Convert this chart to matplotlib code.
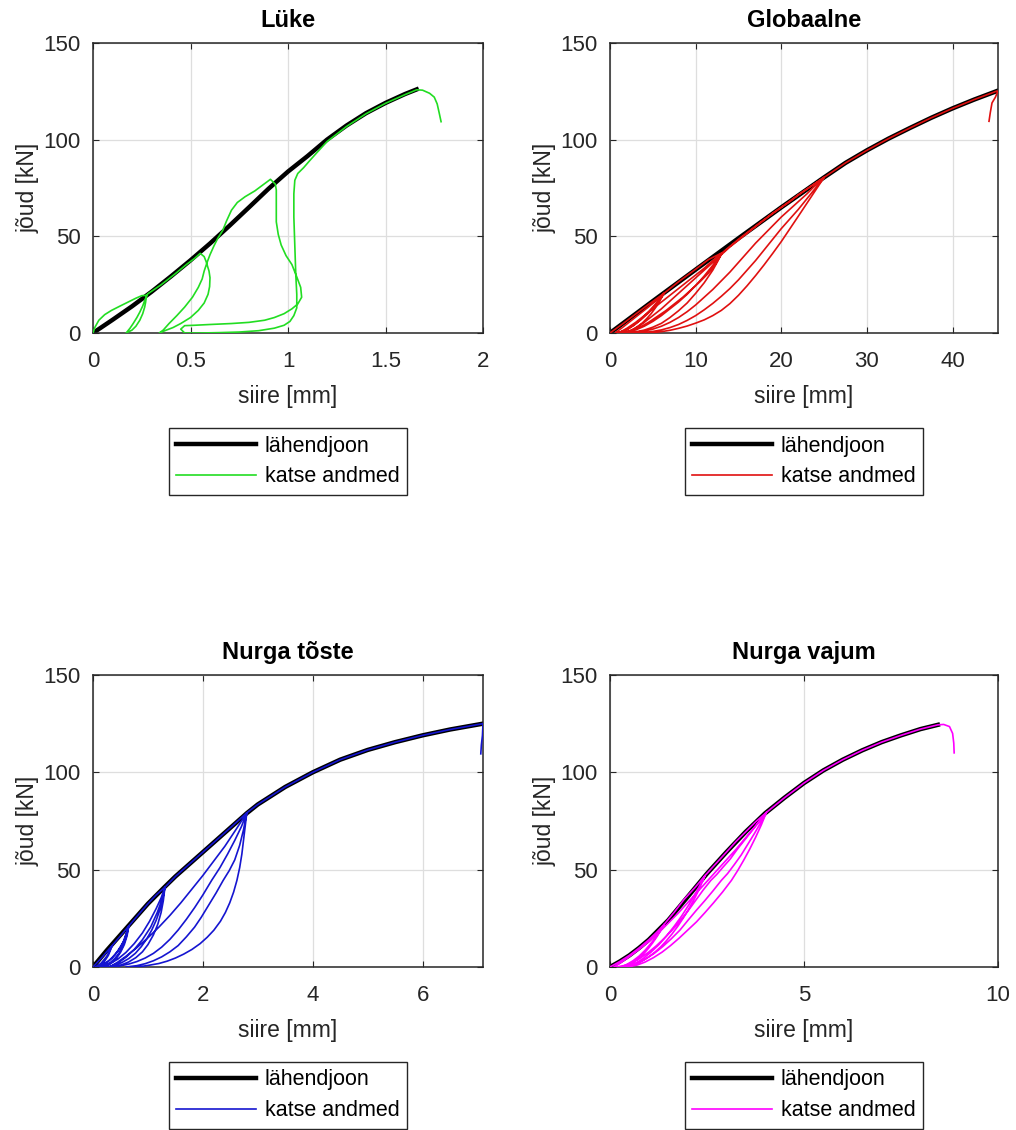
import matplotlib
matplotlib.use("Agg")
import matplotlib.pyplot as plt

plt.rcParams['font.family'] = ['Liberation Sans', 'DejaVu Sans']

# --- Lüke ---------------------------------------------------------------
luke_fit_x = [0, 0.1, 0.2, 0.3, 0.4, 0.5, 0.6, 0.7, 0.8, 0.9, 1.0, 1.1, 1.2,
              1.3, 1.4, 1.5, 1.6, 1.66]
luke_fit_y = [0, 6.8, 13.8, 21.3, 29.3, 37.6, 46.3, 55.5, 65, 74.6, 83.5, 91.5,
              100, 107.3, 113.7, 119, 123.6, 126]
luke_x = [0, 0.01, 0.03, 0.06, 0.095, 0.14, 0.18, 0.22, 0.25, 0.274,
          0.27, 0.265, 0.255, 0.24, 0.22, 0.2, 0.17,
          0.19, 0.206, 0.225, 0.24, 0.255, 0.265, 0.28,
          0.35, 0.42, 0.48, 0.52, 0.55,
          0.57, 0.58, 0.595, 0.6, 0.598, 0.59, 0.57, 0.54, 0.5, 0.45, 0.41, 0.376, 0.34,
          0.36, 0.39, 0.43, 0.47, 0.51, 0.54, 0.56, 0.57, 0.585, 0.6, 0.62, 0.64, 0.665,
          0.685, 0.71, 0.74, 0.78, 0.83, 0.87, 0.91,
          0.935, 0.94, 0.94, 0.94, 0.95, 0.965, 0.99, 1.02, 1.045, 1.065, 1.07, 1.05,
          1.02, 0.98, 0.93, 0.88, 0.8, 0.71, 0.6, 0.52, 0.47, 0.45, 0.47,
          0.55, 0.65, 0.75, 0.85, 0.93, 0.98, 1.01, 1.03, 1.045, 1.045, 1.04, 1.035,
          1.03, 1.03, 1.035, 1.05, 1.08, 1.11, 1.15, 1.2,
          1.3, 1.4, 1.5, 1.6, 1.66, 1.69, 1.726, 1.75, 1.765, 1.775, 1.785]
luke_y = [0, 3, 6.6, 9.5, 11.7, 14, 16, 18, 19.3, 19.5,
          16, 13.4, 10, 6.6, 3.5, 1.5, 0,
          2.5, 4.9, 8, 10.8, 14, 16.8, 20.2,
          25, 30.5, 35.5, 38.5, 41.2,
          39.5, 37, 32, 28.6, 24, 20, 15.5, 11.7, 8, 4.9, 2.8, 1.5, 0,
          1.5, 4.9, 9, 13.4, 18.5, 23.6, 28, 32, 36.5, 40.5, 45, 49, 53,
          58, 63.5, 67.5, 70.5, 73.5, 76.5, 79.5,
          77, 74, 66, 57.5, 51, 45.5, 40, 35.4, 29, 23.6, 18.5, 15,
          12.5, 10, 8, 6.6, 5.5, 4.9, 4.4, 4, 3.8, 2, 0,
          0, 0.2, 0.5, 1.2, 2.5, 4, 6, 9, 13, 20, 30, 45,
          60, 72, 79, 82.5, 85.5, 89, 93.5, 99,
          106.8, 113.4, 118.8, 123.3, 125.8, 125.6, 124, 122, 118.5, 114, 109.3]

# --- Globaalne ----------------------------------------------------------
glob_fit_x = [0, 5, 10, 15, 20, 25, 27.5, 30, 32.5, 35, 37.5, 40, 42.5, 45.2]
glob_fit_y = [0, 16.5, 32.8, 49, 65, 80.5, 88, 94.5, 100.5, 106, 111.3, 116.2,
              120.7, 125.2]
glob_x = [0, 1.5, 3, 4.5, 6.3,
          # first level
          5.8, 5.3, 4.8, 4.3, 3.8, 3.3, 2.8, 2.3, 1.8, 1.2,
          2, 2.8, 3.6, 4.4, 5.2, 5.8, 6.3,
          5.8, 5.2, 4.6, 4, 3.4, 2.8, 2.2, 1.6, 1, 0.6,
          1.5, 2.5, 3.5, 4.5, 5.5, 6.3,
          8, 10, 11.5, 13.1,
          # second level
          12.5, 12, 11, 10, 9, 8, 7, 6, 5, 4, 3, 2, 1.5,
          2.5, 3.5, 4.5, 5.5, 6.5, 7.5, 8.5, 9.5, 10.5, 11.5, 12.3, 13.1,
          12.5, 12, 11, 10, 9, 8, 7, 6, 5, 4, 3, 2, 1,
          2, 3, 4, 5, 6, 7, 8, 9, 10, 11, 12, 13.1,
          15, 17.5, 20, 22.5, 25,
          # third level
          24, 23, 22, 21, 20, 19, 18, 17, 16, 15, 14, 13, 12, 11, 10, 9, 8, 7, 6, 5, 4,
          3, 4, 5, 6, 7, 8, 9, 10, 11, 12, 13, 14, 15, 16, 17, 18, 19, 20, 21, 22, 23, 24, 25,
          24, 23, 22, 21, 20, 19, 18, 17, 16, 15, 14, 13, 12, 11, 10, 9, 8, 7, 6, 5, 4, 3, 2,
          3, 4, 5, 6, 7, 8, 9, 10, 11, 12, 13, 14, 15, 16, 17, 18, 19, 20, 21, 22, 23, 24, 25,
          27.5, 30, 32.5, 35, 37.5, 40, 42.5, 45.2,
          45.25, 45.0, 44.6, 44.4, 44.25]
glob_y = [0, 4.8, 9.8, 14.8, 20.5,
          16.5, 13, 10, 7.5, 5.3, 3.6, 2.2, 1.2, 0.5, 0,
          1.8, 4, 6.8, 10, 13.5, 17, 20.5,
          17.5, 14.5, 11.5, 8.8, 6.3, 4.2, 2.4, 1.1, 0.3, 0,
          3, 6.5, 10, 13.5, 17.2, 20.5,
          26.5, 33, 38, 41.5,
          36.5, 32.5, 26, 20.5, 15.5, 11.5, 8, 5, 3, 1.5, 0.6, 0.1, 0,
          1.2, 3, 5.5, 8.5, 11.5, 15, 18.5, 22.5, 26.5, 31, 35.5, 41.5,
          38, 35, 29.5, 24.5, 20, 16, 12.5, 9, 6, 3.5, 1.6, 0.4, 0,
          2.5, 5.5, 9, 12.5, 16, 19.5, 23, 26.5, 30, 33.5, 37.5, 41.5,
          48.5, 57, 65, 73, 80.5,
          73.8, 67.2, 60.5, 53.9, 47.3, 41.2, 35.3, 29.7, 24.4, 19.5, 15.2, 11.7, 9, 6.8, 5.1, 3.6, 2.4, 1.4, 0.7, 0.2, 0,
          0, 0.3, 0.8, 1.6, 2.8, 4.4, 6.5, 9, 12, 15.3, 19, 23, 27.5, 32.5, 37.5, 43, 48.5, 54, 59, 64, 69.5, 75, 80.5,
          76.5, 72, 68, 64, 60, 55.5, 51, 46.5, 41.5, 36.5, 31.5, 27, 22.5, 18.5, 14.5, 11, 8, 5.5, 3.5, 2, 1, 0.4, 0,
          2.5, 5.5, 9, 12.5, 16.5, 20.5, 24.5, 28.5, 32.5, 36.5, 40.5, 44.5, 48, 51.5, 55, 58.5, 62, 65, 68, 71.5, 74.5, 77.5, 80.5,
          88, 94.5, 100.5, 106, 111.3, 116.2, 120.7, 125.2,
          124.8, 122, 119, 114, 109.5]

# --- Nurga tõste --------------------------------------------------------
toste_fit_x = [0, 0.25, 0.5, 0.75, 1.0, 1.3, 1.5, 2.0, 2.5, 2.8, 3.0, 3.5, 4.0,
               4.5, 5.0, 5.5, 6.0, 6.5, 7.0, 7.1]
toste_fit_y = [0, 8.5, 16.5, 24.5, 32.5, 41, 46.5, 59, 71.5, 79, 83.5, 92.5, 100,
               106.5, 111.5, 115.5, 119, 122, 124.5, 125]
toste_x = [0, 0.15, 0.3, 0.35,
           0.28, 0.2, 0.1, 0.05,
           0.15, 0.25, 0.35,
           0.5, 0.65,
           # loops at ~20 kN
           0.62, 0.58, 0.53, 0.47, 0.4, 0.32, 0.23, 0.15, 0.1,
           0.2, 0.3, 0.4, 0.5, 0.58, 0.65,
           0.62, 0.57, 0.5, 0.42, 0.33, 0.24, 0.15,
           0.25, 0.35, 0.45, 0.55, 0.65,
           0.8, 1.0, 1.15, 1.31,
           # loops at ~40 kN
           1.27, 1.22, 1.15, 1.07, 0.98, 0.88, 0.77, 0.65, 0.52, 0.4, 0.28, 0.15,
           0.3, 0.45, 0.6, 0.75, 0.9, 1.03, 1.15, 1.24, 1.31,
           1.28, 1.24, 1.18, 1.1, 1.0, 0.9, 0.78, 0.65, 0.52, 0.4, 0.3,
           0.45, 0.6, 0.75, 0.9, 1.05, 1.17, 1.26, 1.31,
           1.5, 2.0, 2.5, 2.8,
           # loops at ~80 kN
           2.77, 2.74, 2.71, 2.67, 2.62, 2.56, 2.49, 2.41, 2.32, 2.2, 2.08, 1.95, 1.8,
           1.65, 1.5, 1.35, 1.2, 1.0, 0.8,
           0.6, 0.8, 0.95, 1.1, 1.25, 1.4, 1.55, 1.7, 1.85, 1.97, 2.1, 2.24, 2.37,
           2.48, 2.58, 2.67, 2.74, 2.8,
           2.7, 2.58, 2.45, 2.31, 2.16, 2.0, 1.85, 1.7, 1.55, 1.4, 1.25, 1.1, 0.95,
           0.8, 0.65, 0.5, 0.35, 0.3,
           0.45, 0.6, 0.8, 1.0, 1.2, 1.4, 1.6, 1.8, 2.0, 2.2, 2.4, 2.6, 2.8,
           3.0, 3.5, 4.0, 4.5, 5.0, 5.5, 6.0, 6.5, 7.0, 7.1,
           7.09, 7.07, 7.06]
toste_y = [0, 4.5, 9.5, 11,
           6, 2.5, 0.5, 0,
           2, 5.5, 11,
           16, 21,
           17, 13.5, 10, 7, 4.5, 2.4, 0.9, 0.2, 0,
           1.5, 3.5, 6.2, 10, 14.5, 21,
           16, 11.5, 7.5, 4.2, 1.9, 0.5, 0,
           2.2, 4.8, 8.2, 12.8, 21,
           26, 32.5, 37, 41,
           35, 29.5, 24, 19, 14.5, 10.5, 7, 4.3, 2.2, 0.9, 0.2, 0,
           1.6, 4, 7.5, 12, 17.5, 23.5, 30, 35.5, 41,
           34, 28, 22, 16.5, 11.5, 7.8, 4.8, 2.6, 1.1, 0.3, 0,
           2, 5, 9, 14, 20.5, 28, 35, 41,
           46.5, 59, 71.5, 79.2,
           72, 65, 58, 51, 44.5, 38.5, 33, 28, 23.5, 18.9, 15.3, 12, 9,
           6.6, 4.6, 3, 1.8, 0.8, 0,
           0, 0.7, 1.7, 3.2, 5.2, 7.8, 11, 15.5, 20.5, 25.5, 31.5, 38, 44.5,
           49.5, 55, 62.5, 70.5, 79.2,
           72, 65, 58, 51, 44.5, 37, 30.5, 24.5, 19, 14.2, 10.2, 7, 4.6,
           2.8, 1.5, 0.6, 0.1, 0,
           2.5, 5.5, 10, 15, 20.5, 26.5, 33, 40, 47, 54.5, 62, 70.5, 79.2,
           83.5, 92.5, 100, 106.5, 111.5, 115.5, 119, 122, 124.5, 125,
           119, 114, 109.5]

# --- Nurga vajum --------------------------------------------------------
vajum_fit_x = [0, 0.25, 0.5, 0.75, 1, 1.5, 2, 2.5, 3, 3.5, 4, 4.5, 5, 5.5, 6, 6.5,
               7, 7.5, 8, 8.45]
vajum_fit_y = [0, 2.8, 6, 9.8, 14, 24, 36, 48, 59, 69.5, 79, 87, 94.5, 101, 106.5,
               111.3, 115.5, 119, 122.2, 124.4]
vajum_x = [0, 0.25, 0.5, 0.75, 1.0, 1.2, 1.4,
           # loop at ~22 kN
           1.3, 1.2, 1.1, 1.0, 0.9, 0.8, 0.7, 0.6, 0.5, 0.4, 0.3,
           0.45, 0.6, 0.75, 0.9, 1.05, 1.2, 1.3, 1.4,
           1.65, 1.9, 2.2, 2.45,
           # loop at ~47 kN
           2.33, 2.2, 2.05, 1.9, 1.75, 1.6, 1.45, 1.3, 1.15, 1.0, 0.85, 0.7, 0.55, 0.45,
           0.65, 0.85, 1.05, 1.25, 1.45, 1.65, 1.85, 2.05, 2.25, 2.45,
           2.75, 3.0, 3.25, 3.5, 3.75, 4.03,
           # loops at ~80 kN
           3.9, 3.75, 3.6, 3.45, 3.29, 3.13, 2.9, 2.67, 2.45, 2.23, 2.0, 1.78, 1.56,
           1.34, 1.12, 0.9, 0.7, 0.5, 0.4,
           0.25, 0.3, 0.5, 0.7, 0.92, 1.14, 1.36, 1.58, 1.8, 2.01, 2.22, 2.44, 2.65,
           2.87, 3.03, 3.2, 3.38, 3.55, 3.72, 3.88, 4.03,
           3.86, 3.68, 3.5, 3.3, 3.1, 2.9, 2.75, 2.6, 2.4, 2.2, 2.0, 1.8, 1.6, 1.4,
           1.2, 1.0, 0.8, 0.6, 0.4, 0.2, 0.1,
           0.3, 0.5, 0.75, 1.0, 1.25, 1.5, 1.75, 2.0, 2.25, 2.5, 2.75, 3.0, 3.25,
           3.5, 3.75, 4.03,
           4.5, 5, 5.5, 6, 6.5, 7, 7.5, 8, 8.45,
           8.6, 8.75, 8.83, 8.86, 8.87]
vajum_y = [0, 2.8, 6, 9.8, 14, 17.8, 22,
           18.5, 15.3, 12.4, 9.8, 7.5, 5.5, 3.8, 2.4, 1.3, 0.5, 0,
           1.5, 3.3, 5.6, 8.5, 12, 15.8, 18.8, 22,
           28, 34.5, 41, 47,
           41.5, 36, 30.5, 25.5, 21, 17, 13.4, 10.2, 7.5, 5.2, 3.3, 1.8, 0.7, 0,
           1.8, 4.3, 7.5, 11.3, 15.8, 20.8, 26.3, 32.5, 39.5, 47,
           53.5, 59, 64.5, 69.5, 74.5, 79.4,
           73, 66.5, 60.5, 55, 49.5, 44.5, 38.5, 33, 28, 23.2, 18.9, 14.8, 11,
           7.6, 4.8, 2.5, 1, 0.2, 0,
           0, 0.1, 0.7, 2, 4.2, 7, 10.5, 14.5, 18.9, 24, 29, 34, 39,
           44.5, 48, 52.5, 57.5, 63, 68.5, 74, 79.4,
           75, 70.5, 66, 61, 55.5, 51, 47.5, 44.5, 39.5, 34, 28.5, 23.5, 18.9, 14.8,
           11, 7.7, 4.8, 2.5, 0.9, 0.1, 0,
           2.5, 5.3, 9, 13, 17.5, 22.5, 27.5, 33, 38.5, 44, 49.5, 55, 60.5,
           66.5, 72.5, 79.4,
           87, 94.5, 101, 106.5, 111.3, 115.5, 119, 122.2, 124.4,
           124.6, 123.5, 120, 115, 110]

W, H = 1016, 1130
fig = plt.figure(figsize=(W / 100, H / 100), dpi=100)


def px_axes(left, top, right, bottom):
    return fig.add_axes([left / W, 1 - bottom / H, (right - left) / W, (bottom - top) / H])


def panel(ax, title, fx, fy, dx, dy, color, xlim, xticks, xticklabels, leg_y):
    ax.plot(fx, fy, color='black', lw=3.2, label='lähendjoon', zorder=2,
            solid_joinstyle='round')
    ax.plot(dx, dy, color=color, lw=1.2, label='katse andmed', zorder=3,
            solid_joinstyle='round')
    ax.set_xlim(*xlim)
    ax.set_ylim(0, 150)
    ax.set_xticks(xticks)
    ax.set_xticklabels(xticklabels)
    ax.set_yticks([0, 50, 100, 150])
    ax.grid(True, color='#dedede', lw=0.9)
    ax.set_axisbelow(True)
    ax.tick_params(direction='in', top=True, right=True, labelsize=16,
                   colors='#262626', length=4, width=0.8)
    ax.tick_params(axis='x', pad=13)
    ax.tick_params(axis='y', pad=9)
    for s in ax.spines.values():
        s.set_color('#262626')
        s.set_linewidth(1.1)
    ax.set_title(title, fontsize=17, fontweight='bold', pad=11.5)
    ax.set_xlabel('siire [mm]', fontsize=16.5, color='#262626', labelpad=9)
    ax.set_ylabel('jõud [kN]', fontsize=16.5, color='#262626', labelpad=3)
    leg = ax.legend(loc='upper center', bbox_to_anchor=(0.5, leg_y), fontsize=15.5,
                    frameon=True, fancybox=False, framealpha=1, edgecolor='#262626',
                    handlelength=3.7, handletextpad=0.4, labelspacing=0.45,
                    borderpad=0.35, borderaxespad=0)
    leg.get_frame().set_linewidth(1.0)


ax1 = px_axes(93, 43, 483, 333)
panel(ax1, 'Lüke', luke_fit_x, luke_fit_y, luke_x, luke_y, '#22dd22',
      (0, 2), [0, 0.5, 1, 1.5, 2], ['0', '0.5', '1', '1.5', '2'], -0.328)

ax2 = px_axes(610, 43, 998, 333)
panel(ax2, 'Globaalne', glob_fit_x, glob_fit_y, glob_x, glob_y, '#e01010',
      (0, 45.3), [0, 10, 20, 30, 40], ['0', '10', '20', '30', '40'], -0.328)

ax3 = px_axes(93, 675, 483, 967)
panel(ax3, 'Nurga tõste', toste_fit_x, toste_fit_y, toste_x, toste_y, '#1515d0',
      (0, 7.1), [0, 2, 4, 6], ['0', '2', '4', '6'], -0.325)

ax4 = px_axes(610, 675, 998, 967)
panel(ax4, 'Nurga vajum', vajum_fit_x, vajum_fit_y, vajum_x, vajum_y, '#ff00ff',
      (0, 10), [0, 5, 10], ['0', '5', '10'], -0.325)

fig.savefig('out.png', dpi=100)
